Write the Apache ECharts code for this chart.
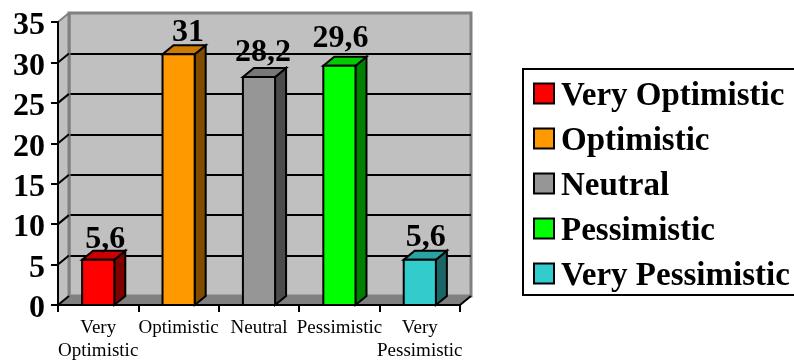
<!DOCTYPE html>
<html>
<head>
<meta charset="utf-8">
<style>
  html, body { margin: 0; padding: 0; background: #fff; }
  #chart { width: 794px; height: 360px; }
</style>
<script src="https://cdn.jsdelivr.net/npm/echarts@6/dist/echarts.min.js"></script>
</head>
<body>
<div id="chart"></div>
<script>
var categories = ['Very\nOptimistic', 'Optimistic', 'Neutral', 'Pessimistic', 'Very\nPessimistic'];
var seriesNames = ['Very Optimistic', 'Optimistic', 'Neutral', 'Pessimistic', 'Very Pessimistic'];
var values = [5.6, 31, 28.2, 29.6, 5.6];
var valueLabels = ['5,6', '31', '28,2', '29,6', '5,6'];
var yTicks = [0, 5, 10, 15, 20, 25, 30, 35];

var frontColors = ['#ff0000', '#ff9900', '#969696', '#00ff00', '#33cccc'];
var topColors = ['#cc0000', '#cc7a00', '#787878', '#00cc00', '#29a3a3'];
var sideColors = ['#800000', '#804d00', '#4b4b4b', '#008000', '#1a6666'];
// labels were hand placed in the original, they don't sit centred on the bars
var labelShiftX = [7, 9.5, 4, 1, 6];
var labelGap = [2, 4, 6, 9, 4];

var font = '"Liberation Serif", serif';
var depthX = 11, depthY = -9;
var black = { stroke: '#000', lineWidth: 2, lineJoin: 'miter' };

function poly(points, fill) {
    return {
        type: 'polygon',
        shape: { points: points },
        style: { fill: fill, stroke: black.stroke, lineWidth: black.lineWidth, lineJoin: 'miter' }
    };
}

function renderBar(params, api) {
    var i = api.value(0);
    var top = api.coord([i, api.value(1)]);
    var base = api.coord([i, 0]);
    var w = api.size([1, 0])[0] * 0.4;
    var l = top[0] - w / 2, r = top[0] + w / 2;
    var t = top[1], b = base[1];
    return {
        type: 'group',
        children: [
            poly([[r, t], [r + depthX, t + depthY], [r + depthX, b + depthY], [r, b]], sideColors[i]),
            poly([[l, t], [l + depthX, t + depthY], [r + depthX, t + depthY], [r, t]], topColors[i]),
            poly([[l, t], [r, t], [r, b], [l, b]], frontColors[i]),
            {
                type: 'text',
                style: {
                    x: top[0] + labelShiftX[i],
                    y: t + depthY - labelGap[i] + 7,
                    text: valueLabels[i],
                    fill: '#000',
                    font: 'bold 32px ' + font,
                    align: 'center',
                    verticalAlign: 'bottom'
                }
            }
        ]
    };
}

// side wall, floor and the diagonals going from the front ticks to the back wall
function renderWalls(params, api) {
    var g = params.coordSys;
    var y = api.coord([0, api.value(1)])[1];
    var left = g.x, right = g.x + g.width, bottom = g.y + g.height;
    var children = [];
    if (params.dataIndex === 0) {
        children.push({
            type: 'polygon',
            shape: { points: [[left, g.y], [left + depthX, g.y + depthY], [left + depthX, bottom + depthY], [left, bottom]] },
            style: { fill: '#c0c0c0' }
        });
        children.push({
            type: 'polygon',
            shape: { points: [[left, bottom], [left + depthX, bottom + depthY], [right + depthX, bottom + depthY], [right, bottom]] },
            style: { fill: '#808080' }
        });
        children.push({
            type: 'line',
            shape: { x1: right, y1: bottom, x2: right + depthX, y2: bottom + depthY },
            style: { stroke: '#000', lineWidth: 2 }
        });
        children.push({
            type: 'line',
            shape: { x1: left + depthX, y1: g.y + depthY, x2: left + depthX, y2: bottom + depthY },
            style: { stroke: '#808080', lineWidth: 3 }
        });
    }
    var isTop = params.dataIndex === params.dataInsideLength - 1;
    children.push({
        type: 'line',
        shape: { x1: left, y1: y, x2: left + depthX, y2: y + depthY },
        style: { stroke: isTop ? '#808080' : '#000', lineWidth: 2 }
    });
    return { type: 'group', children: children };
}

var series = [{
    name: 'walls',
    type: 'custom',
    xAxisIndex: 0,
    yAxisIndex: 0,
    z: 1,
    silent: true,
    renderItem: renderWalls,
    data: yTicks.map(function(v) { return [0, v]; })
}];

seriesNames.forEach(function(name, i) {
    series.push({
        name: name,
        type: 'custom',
        xAxisIndex: 0,
        yAxisIndex: 0,
        z: 10,
        renderItem: renderBar,
        itemStyle: { color: frontColors[i] },
        encode: { x: 0, y: 1 },
        data: [[i, values[i]]]
    });
});

var option = {
    animation: false,
    backgroundColor: '#fff',
    legend: {
        orient: 'vertical',
        left: 523,
        top: 69,
        padding: [11, 40, 2, 10],
        borderColor: '#000',
        borderWidth: 2,
        itemWidth: 20,
        itemHeight: 20,
        itemGap: 12,
        icon: 'rect',
        selectedMode: false,
        itemStyle: { borderColor: '#000', borderWidth: 2 },
        formatter: '{a|{name}}',
        textStyle: {
            rich: {
                a: { fontFamily: font, fontWeight: 'bold', fontSize: 33, color: '#000', padding: [6, 0, 0, 2] }
            }
        },
        data: seriesNames
    },
    grid: [
        { left: 58, top: 22, width: 402, height: 283, show: false, outerBoundsMode: 'none' },
        { left: 69, top: 13, width: 402, height: 283, show: true, backgroundColor: '#c0c0c0', borderColor: '#808080', borderWidth: 3, outerBoundsMode: 'none' }
    ],
    xAxis: [
        {
            type: 'category',
            gridIndex: 0,
            data: categories,
            z: 5,
            axisLine: { lineStyle: { color: '#000', width: 2 } },
            axisTick: { show: true, alignWithLabel: false, length: 7, lineStyle: { color: '#000', width: 2 } },
            axisLabel: { interval: 0, hideOverlap: false, margin: 12, color: '#000', fontFamily: font, fontSize: 19, lineHeight: 23 }
        },
        { type: 'category', gridIndex: 1, data: categories, show: false }
    ],
    yAxis: [
        {
            type: 'value',
            gridIndex: 0,
            min: 0,
            max: 35,
            interval: 5,
            z: 5,
            splitLine: { show: false },
            axisLine: { show: true, lineStyle: { color: '#000', width: 2 } },
            axisTick: { show: true, length: 7, lineStyle: { color: '#000', width: 2 } },
            axisLabel: { margin: 13, color: '#000', fontFamily: font, fontWeight: 'bold', fontSize: 32, verticalAlign: 'top', padding: [-12, 0, 0, 0] }
        },
        {
            type: 'value',
            gridIndex: 1,
            min: 0,
            max: 35,
            interval: 5,
            axisLine: { show: false },
            axisTick: { show: false },
            axisLabel: { show: false },
            splitLine: { show: true, showMinLine: false, showMaxLine: false, lineStyle: { color: '#000', width: 2 } }
        }
    ],
    series: series
};

var myChart = echarts.init(document.getElementById('chart'), null, { renderer: 'canvas' });
myChart.setOption(option);
</script>
</body>
</html>
